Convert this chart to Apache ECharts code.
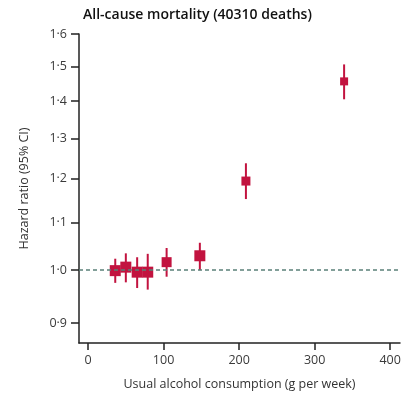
<!DOCTYPE html>
<html>
<head>
<meta charset="utf-8">
<script src="https://cdn.jsdelivr.net/npm/echarts@6/dist/echarts.min.js"></script>
<style>html,body{margin:0;padding:0;background:#fff;}#c{width:406px;height:396px;}</style>
</head>
<body>
<div id="c"></div>
<script>
const title = 'All-cause mortality (40310 deaths)';
const xName = 'Usual alcohol consumption (g per week)';
const yName = 'Hazard ratio (95% CI)';
const doses = [36, 50, 65, 79, 104, 148, 209, 339];
const hr    = [0.999, 1.006, 0.996, 0.996, 1.016, 1.029, 1.194, 1.456];
const lower = [0.975, 0.976, 0.965, 0.962, 0.987, 1.000, 1.152, 1.405];
const upper = [1.023, 1.034, 1.026, 1.033, 1.045, 1.056, 1.237, 1.506];
const xTicks = [0, 100, 200, 300, 400];
const yTicks = [0.9, 1.0, 1.1, 1.2, 1.3, 1.4, 1.5, 1.6];
const markerSize = [11, 11, 11, 11, 10, 11, 9, 8];

const RED = '#c2133f';
const FONT = '"Open Sans", "Noto Sans", sans-serif';
const chart = echarts.init(document.getElementById('c'), null, {renderer: 'canvas'});
// log-scaled hazard-ratio axis: values are placed on a natural-log value axis
const L = Math.log;
const fmt = v => (Math.round(Math.exp(v) * 10) / 10).toFixed(1).replace('.', '\u00b7');
const yTickLog = yTicks.map(L);

chart.setOption({
  animation: false,
  backgroundColor: '#fff',
  title: {
    text: title, left: 78, top: 3,
    textStyle: {fontFamily: FONT, fontSize: 14, fontWeight: 600, color: '#111'}
  },
  grid: {left: 79, right: 6, top: 34, bottom: 53, containLabel: false},
  xAxis: {
    type: 'value', min: -12, max: 413,
    name: xName, nameLocation: 'middle', nameGap: 35,
    nameTextStyle: {fontFamily: FONT, fontSize: 12.5, color: '#333'},
    axisLine: {show: true, onZero: false, lineStyle: {color: '#222', width: 1.5}},
    axisTick: {show: true, length: 7, customValues: xTicks, lineStyle: {color: '#222', width: 1.5}},
    axisLabel: {customValues: xTicks, margin: 11, fontFamily: FONT, fontSize: 12.5, color: '#3a3a3a'},
    splitLine: {show: false}
  },
  yAxis: {
    type: 'value', min: L(0.865), max: L(1.6),
    name: yName, nameLocation: 'middle', nameGap: 48, nameRotate: 90,
    nameTextStyle: {fontFamily: FONT, fontSize: 12.5, color: '#333'},
    axisLine: {show: true, onZero: false, lineStyle: {color: '#222', width: 1.5}},
    axisTick: {show: true, length: 8, customValues: yTickLog, lineStyle: {color: '#222', width: 1.5}},
    axisLabel: {customValues: yTickLog, margin: 12, fontFamily: FONT, fontSize: 12.5, color: '#3a3a3a', formatter: v => fmt(v)},
    splitLine: {show: false}
  },
  series: [
    {
      type: 'custom',
      data: doses.map((d, i) => [d, L(lower[i]), L(upper[i])]),
      renderItem: (params, api) => {
        const p1 = api.coord([api.value(0), api.value(1)]);
        const p2 = api.coord([api.value(0), api.value(2)]);
        return {type: 'line', shape: {x1: p1[0], y1: p1[1], x2: p2[0], y2: p2[1]},
                style: {stroke: RED, lineWidth: 2}};
      },
      markLine: {
        silent: true, symbol: 'none', label: {show: false},
        lineStyle: {color: '#5a8078', type: [4, 3], width: 1.5},
        data: [{yAxis: L(1.0)}]
      },
      z: 2
    },
    {
      type: 'scatter',
      data: doses.map((d, i) => [d, L(hr[i])]),
      symbol: 'rect',
      symbolSize: (v, p) => markerSize[p.dataIndex],
      itemStyle: {color: RED, opacity: 1},
      z: 3
    }
  ]
});
</script>
</body>
</html>
